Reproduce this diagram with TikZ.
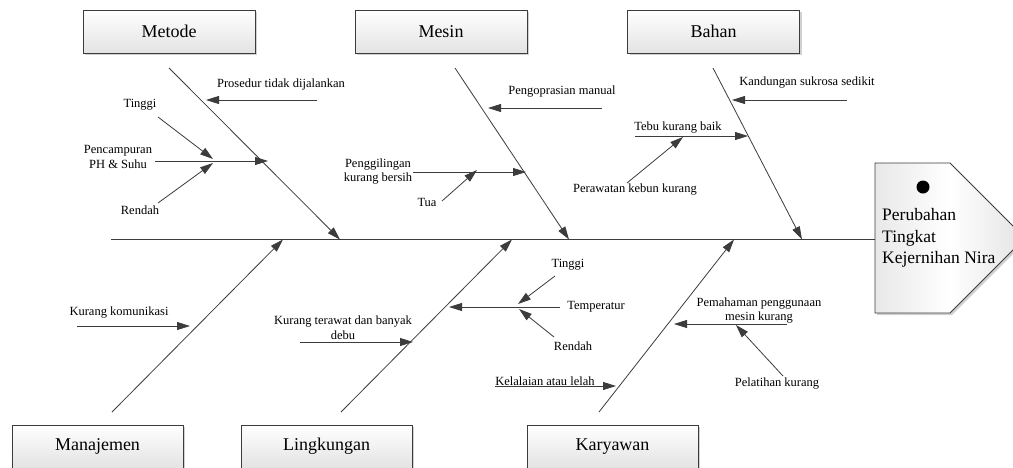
\documentclass[tikz,border=0pt]{standalone}
\usepackage{fontspec}
\setmainfont{Liberation Serif}
\usetikzlibrary{arrows.meta,shadows}
\definecolor{linec}{HTML}{3C3C3C}
\tikzset{
  catbox/.style={draw=linec, line width=0.9pt, top color=white, bottom color=gray!22,
    minimum width=172pt, minimum height=43pt, inner sep=0pt,
    font=\fontsize{18}{21}\selectfont,
    drop shadow={shadow xshift=2pt, shadow yshift=-2pt, fill=gray!45, opacity=0.8}},
  lbl/.style={font=\fontsize{12.5}{14.5}\selectfont, align=center, inner sep=0pt, text=black},
  bone/.style={draw=linec, line width=0.8pt, -{Triangle[length=13pt,width=8pt]}},
  plain/.style={draw=linec, line width=0.8pt},
}
\begin{document}
\begin{tikzpicture}[x=1pt,y=-1pt]
\useasboundingbox (0,0) rectangle (1013,467);
\clip (0,0) rectangle (1013,467);
\fill[white] (0,0) rectangle (1013,467);

% head shape
\coordinate (h1) at (875,163);
\coordinate (h2) at (950,163);
\coordinate (h3) at (1025,238);
\coordinate (h4) at (950,313);
\coordinate (h5) at (875,313);
\fill[gray!45, opacity=0.8] ([shift={(2,2)}]h1) -- ([shift={(2,2)}]h2) -- ([shift={(2,2)}]h3) -- ([shift={(2,2)}]h4) -- ([shift={(2,2)}]h5) -- cycle;
\shade[left color=gray!18, right color=gray!22, middle color=white, draw=linec, line width=0.9pt] (h1) -- (h2) -- (h3) -- (h4) -- (h5) -- cycle;
\fill[black] (923,187) coordinate (dot) circle (6.5);
\node[anchor=west, align=left, inner sep=0pt, font=\fontsize{17.5}{21.5}\selectfont] (head) at (882,238) {Perubahan\\Tingkat\\Kejernihan Nira};

% spine
\coordinate (spL) at (111,239.5);
\coordinate (spR) at (875,239.5);
\draw[plain] (spL) -- (spR);

% category boxes
\node[catbox] (metode) at (169,31.5) {Metode};
\node[catbox] (mesin) at (441,31.5) {Mesin};
\node[catbox] (bahan) at (713.5,31.5) {Bahan};
\node[catbox, minimum width=171pt] (manajemen) at (97.5,446.5) {Manajemen};
\node[catbox, minimum width=171pt] (lingkungan) at (326.5,446.5) {Lingkungan};
\node[catbox, minimum width=171pt] (karyawan) at (612.5,446.5) {Karyawan};

% bones
\coordinate (bM1) at (169,68);  \coordinate (bM2) at (340,239.5);
\coordinate (bS1) at (455,68);  \coordinate (bS2) at (569,239.5);
\coordinate (bB1) at (713,68);  \coordinate (bB2) at (802,239.5);
\coordinate (bJ1) at (112,412); \coordinate (bJ2) at (283,239.5);
\coordinate (bL1) at (341,412); \coordinate (bL2) at (512,239.5);
\coordinate (bK1) at (599,412); \coordinate (bK2) at (734,239.5);
\draw[bone] (bM1) -- (bM2);
\draw[bone] (bS1) -- (bS2);
\draw[bone] (bB1) -- (bB2);
\draw[bone] (bJ1) -- (bJ2);
\draw[bone] (bL1) -- (bL2);
\draw[bone] (bK1) -- (bK2);

% Metode causes
\node[lbl] (prosedur) at (281,84) {Prosedur tidak dijalankan};
\coordinate (pr1) at (317,100); \coordinate (pr2) at (206,100);
\draw[bone] (pr1) -- (pr2);
\node[lbl] (pencampuran) at (118,157) {Pencampuran\\PH \& Suhu};
\coordinate (pc1) at (155,161); \coordinate (pc2) at (268,161);
\draw[bone] (pc1) -- (pc2);
\node[lbl] (tinggiA) at (140,105) {Tinggi};
\coordinate (ti1) at (158,117); \coordinate (ti2) at (213,159);
\draw[bone] (ti1) -- (ti2);
\node[lbl] (rendahA) at (140,210) {Rendah};
\coordinate (re1) at (158,203); \coordinate (re2) at (213,163);
\draw[bone] (re1) -- (re2);

% Mesin causes
\node[lbl] (pengoprasian) at (562,92) {Pengoprasian manual};
\coordinate (po1) at (602,108); \coordinate (po2) at (488,108);
\draw[bone] (po1) -- (po2);
\node[lbl] (penggilingan) at (378,171.5) {Penggilingan\\kurang bersih};
\coordinate (pg1) at (413,172); \coordinate (pg2) at (526,172);
\draw[bone] (pg1) -- (pg2);
\node[lbl] (tua) at (427,202) {Tua};
\coordinate (tu1) at (442,201); \coordinate (tu2) at (477,170);
\draw[bone] (tu1) -- (tu2);

% Bahan causes
\node[lbl] (kandungan) at (807,83) {Kandungan sukrosa sedikit};
\coordinate (ka1) at (847,100); \coordinate (ka2) at (732,100);
\draw[bone] (ka1) -- (ka2);
\node[lbl] (tebu) at (678,128) {Tebu kurang baik};
\coordinate (te1) at (635,136); \coordinate (te2) at (748,136);
\draw[bone] (te1) -- (te2);
\node[lbl] (perawatan) at (635,190) {Perawatan kebun kurang};
\coordinate (pw1) at (627,183); \coordinate (pw2) at (683,137);
\draw[bone] (pw1) -- (pw2);

% Manajemen causes
\node[lbl] (komunikasi) at (119,313) {Kurang komunikasi};
\coordinate (ko1) at (77,326); \coordinate (ko2) at (190,326);
\draw[bone] (ko1) -- (ko2);

% Lingkungan causes
\node[lbl] (terawat) at (343,327.5) {Kurang terawat dan banyak\\debu};
\coordinate (tr1) at (300,342); \coordinate (tr2) at (413,342);
\draw[bone] (tr1) -- (tr2);
\node[lbl] (temperatur) at (596,307) {Temperatur};
\coordinate (tp1) at (560,307); \coordinate (tp2) at (449,307);
\draw[bone] (tp1) -- (tp2);
\node[lbl] (tinggiB) at (568,265) {Tinggi};
\coordinate (tb1) at (555,276); \coordinate (tb2) at (518,304);
\draw[bone] (tb1) -- (tb2);
\node[lbl] (rendahB) at (573,346) {Rendah};
\coordinate (rb1) at (554,337); \coordinate (rb2) at (519,309);
\draw[bone] (rb1) -- (rb2);

% Karyawan causes
\node[lbl] (kelalaian) at (545,381) {Kelalaian atau lelah};
\coordinate (kl1) at (495,386); \coordinate (kl2) at (616,386);
\draw[bone] (kl1) -- (kl2);
\node[lbl] (pemahaman) at (759,310.5) {Pemahaman penggunaan\\mesin kurang};
\coordinate (pm1) at (787,324); \coordinate (pm2) at (674,324);
\draw[bone] (pm1) -- (pm2);
\node[lbl] (pelatihan) at (777,384) {Pelatihan kurang};
\coordinate (pl1) at (783,376); \coordinate (pl2) at (736,325);
\draw[bone] (pl1) -- (pl2);
\end{tikzpicture}
\end{document}
